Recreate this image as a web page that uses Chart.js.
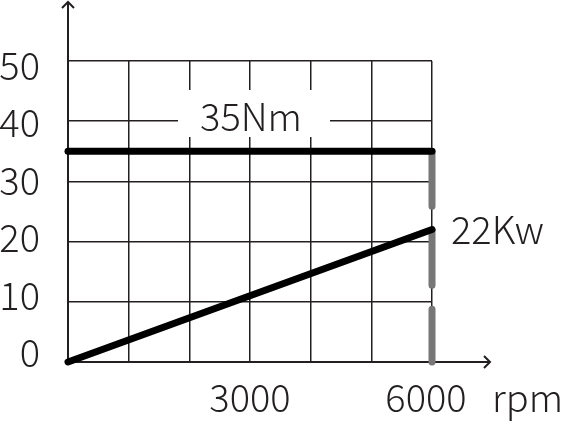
<!DOCTYPE html>
<html>
<head>
<meta charset="utf-8">
<script src="https://cdn.jsdelivr.net/npm/chart.js@4/dist/chart.umd.min.js"></script>
<style>
html,body{margin:0;padding:0;background:#fff;}
#wrap{width:561px;height:424px;position:relative;}
</style>
</head>
<body>
<div id="wrap"><canvas id="c" width="561" height="424"></canvas></div>
<script>
// ---- data ----
const rpm = [0, 6000];
const torqueNm = [35, 35];
const powerKw = [0, 22];
const limitRpm = [6000, 6000];
const limitVals = [35, 0];
const yTicks = [0, 10, 20, 30, 40, 50];
const xTickLabels = [3000, 6000];
const torqueLabel = '35Nm';
const powerLabel = '22Kw';
const xUnit = 'rpm';

const INK = '#231f20';
const FONT = '300 38px "Noto Sans CJK JP", "Noto Sans", sans-serif';

const pts = (xs, ys) => xs.map((x, i) => ({x, y: ys[i]}));

const decor = {
  id: 'decor',
  beforeDatasetsDraw(chart) {
    const {ctx, scales: {x, y}} = chart;
    ctx.save();
    // axes
    const x0 = x.getPixelForValue(0), y0 = y.getPixelForValue(0);
    ctx.strokeStyle = INK;
    ctx.lineWidth = 2;
    ctx.beginPath();
    ctx.moveTo(x0, y0); ctx.lineTo(x0, 2);
    ctx.moveTo(x0 - 6, 8); ctx.lineTo(x0, 2); ctx.lineTo(x0 + 6, 8);
    ctx.moveTo(x0, y0); ctx.lineTo(490, y0);
    ctx.moveTo(484, y0 - 6); ctx.lineTo(490, y0); ctx.lineTo(484, y0 + 6);
    ctx.stroke();
    // label box for torque
    const cx = x.getPixelForValue(3000);
    ctx.fillStyle = '#fff';
    ctx.fillRect(cx - 72, 90, 152, 47);
    ctx.fillStyle = INK;
    ctx.font = FONT;
    ctx.textAlign = 'center';
    ctx.textBaseline = 'alphabetic';
    ctx.fillText(torqueLabel, cx + 1, 131);
    ctx.restore();
  },
  afterDraw(chart) {
    const {ctx, scales: {x, y}} = chart;
    ctx.save();
    ctx.fillStyle = INK;
    ctx.font = FONT;
    ctx.textBaseline = 'middle';
    ctx.textAlign = 'right';
    yTicks.forEach(v => {
      ctx.fillText(String(v), 40, y.getPixelForValue(v) - 9 + v * 0.27);
    });
    ctx.textAlign = 'center';
    ctx.textBaseline = 'alphabetic';
    xTickLabels.forEach(v => {
      const off = v === 6000 ? -6 : 0;
      ctx.fillText(String(v), x.getPixelForValue(v) + off, 412);
    });
    ctx.textAlign = 'left';
    ctx.fillText(xUnit, 492, 412);
    ctx.textBaseline = 'middle';
    ctx.fillText(powerLabel, 451, y.getPixelForValue(22) + 0);
    ctx.restore();
  }
};

new Chart(document.getElementById('c'), {
  type: 'line',
  data: {
    datasets: [
      {data: pts(rpm, torqueNm), borderColor: '#000', borderWidth: 7, borderCapStyle: 'round', pointRadius: 0, clip: false, order: 1},
      {data: pts(rpm, powerKw), borderColor: '#000', borderWidth: 7, borderCapStyle: 'round', pointRadius: 0, clip: false, order: 1},
      {data: pts(limitRpm, limitVals), borderColor: '#777', borderWidth: 7, borderCapStyle: 'round', borderDash: [55, 24], pointRadius: 0, clip: false, order: 3}
    ]
  },
  options: {
    responsive: false,
    animation: false,
    devicePixelRatio: 1,
    layout: {padding: {left: 68, right: 129, top: 61, bottom: 62}},
    plugins: {legend: {display: false}, tooltip: {enabled: false}},
    scales: {
      x: {type: 'linear', min: 0, max: 6000,
          ticks: {display: false, stepSize: 1000},
          grid: {color: INK, lineWidth: 1.5, drawTicks: false},
          border: {display: false}},
      y: {type: 'linear', min: 0, max: 50,
          ticks: {display: false, stepSize: 10},
          grid: {color: INK, lineWidth: 1.5, drawTicks: false},
          border: {display: false}}
    }
  },
  plugins: [decor]
});
</script>
</body>
</html>
